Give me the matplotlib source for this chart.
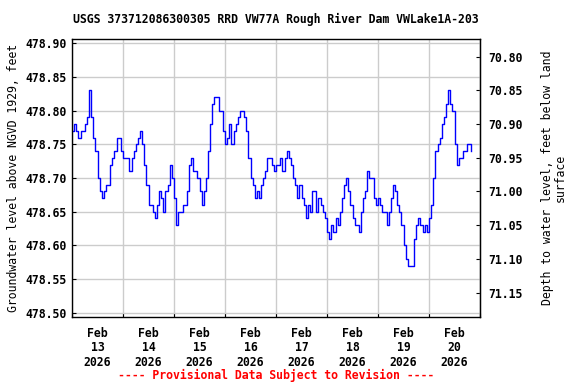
import numpy as np
import matplotlib
matplotlib.use("Agg")
import matplotlib.pyplot as plt
import matplotlib.dates as mdates
from datetime import datetime, timedelta

# hourly groundwater level (ft above NGVD 1929), starting Feb 13 2026 00:00
start = datetime(2026, 2, 13)
levels = [
    478.77, 478.78, 478.77, 478.76, 478.77, 478.77, 478.78, 478.79, 478.83, 478.79,
    478.76, 478.74, 478.70, 478.68, 478.67, 478.68, 478.69, 478.69, 478.72, 478.73,
    478.74, 478.76, 478.76, 478.74, 478.73, 478.73, 478.73, 478.71, 478.73, 478.74,
    478.75, 478.76, 478.77, 478.75, 478.72, 478.69, 478.66, 478.66, 478.65, 478.64,
    478.66, 478.68, 478.67, 478.65, 478.68, 478.69, 478.72, 478.70, 478.67, 478.63,
    478.65, 478.65, 478.66, 478.66, 478.68, 478.72, 478.73, 478.71, 478.71, 478.70,
    478.68, 478.66, 478.68, 478.70, 478.74, 478.78, 478.81, 478.82, 478.82, 478.80,
    478.80, 478.77, 478.75, 478.76, 478.78, 478.75, 478.77, 478.78, 478.79, 478.80,
    478.80, 478.79, 478.77, 478.73, 478.70, 478.69, 478.67, 478.68, 478.67, 478.69,
    478.70, 478.71, 478.73, 478.73, 478.72, 478.71, 478.72, 478.72, 478.73, 478.71,
    478.73, 478.74, 478.73, 478.72, 478.70, 478.69, 478.67, 478.69, 478.67, 478.66,
    478.64, 478.66, 478.65, 478.68, 478.68, 478.65, 478.67, 478.66, 478.65, 478.64,
    478.62, 478.61, 478.63, 478.62, 478.64, 478.63, 478.65, 478.67, 478.69, 478.70,
    478.68, 478.66, 478.64, 478.63, 478.63, 478.62, 478.65, 478.67, 478.68, 478.71,
    478.70, 478.70, 478.67, 478.66, 478.67, 478.66, 478.65, 478.65, 478.63, 478.65,
    478.67, 478.69, 478.68, 478.66, 478.65, 478.63, 478.60, 478.58, 478.57, 478.57,
    478.57, 478.61, 478.63, 478.64, 478.63, 478.62, 478.63, 478.62, 478.64, 478.66,
    478.70, 478.74, 478.75, 478.76, 478.78, 478.79, 478.81, 478.83, 478.81, 478.80,
    478.75, 478.72, 478.73, 478.73, 478.74, 478.74, 478.75, 478.75, 478.74,
]
land_surface = 549.68  # level + depth
yticks = [478.50, 478.55, 478.60, 478.65, 478.70, 478.75, 478.80, 478.85, 478.90]
depth_ticks = [70.80, 70.85, 70.90, 70.95, 71.00, 71.05, 71.10, 71.15]

times = [start + timedelta(hours=i) for i in range(len(levels))]

plt.rcParams['font.family'] = 'DejaVu Sans Mono'
plt.rcParams['font.weight'] = 'bold'
fs = 8.3

fig = plt.figure(figsize=(5.76, 3.84), dpi=100)
ax = fig.add_axes([72/576, 1-317/384, 408/576, 278/384])

ax.plot(times, levels, color='#0000ff', lw=1, drawstyle='steps-post')

ax.set_xlim(start, start + timedelta(days=8))
ax.set_ylim(478.494, 478.906)
ax.set_yticks(yticks)
ax.yaxis.set_major_formatter(matplotlib.ticker.FormatStrFormatter('%.2f'))

ax.xaxis.set_major_locator(mdates.DayLocator())
ax.xaxis.set_major_formatter(matplotlib.ticker.NullFormatter())
ax.xaxis.set_minor_locator(mdates.HourLocator(byhour=[12]))
ax.xaxis.set_minor_formatter(mdates.DateFormatter('%b\n%d\n%Y'))
ax.tick_params(axis='x', which='minor', length=0, pad=7, labelsize=fs)
ax.tick_params(axis='x', which='major', direction='in', length=3)
ax.tick_params(axis='y', direction='in', length=3, labelsize=fs, pad=4)
for lab in ax.get_xticklabels(minor=True):
    lab.set_fontweight('bold')
    lab.set_linespacing(1.15)

ax.grid(True, which='major', color='#cccccc', lw=1)
for s in ax.spines.values():
    s.set_linewidth(1)

ax.set_ylabel('Groundwater level above NGVD 1929, feet', fontsize=fs, labelpad=4)

sec = ax.secondary_yaxis('right', functions=(lambda x: land_surface - x, lambda d: land_surface - d))
sec.set_yticks(depth_ticks)
sec.yaxis.set_major_formatter(matplotlib.ticker.FormatStrFormatter('%.2f'))
sec.tick_params(direction='in', length=3, labelsize=fs, pad=6)
sec.set_ylabel('Depth to water level, feet below land\nsurface', fontsize=fs,
               linespacing=1.0, labelpad=13)

fig.text(276/576, 1-19/384, 'USGS 373712086300305 RRD VW77A Rough River Dam VWLake1A-203',
         ha='center', va='center', fontsize=fs)
fig.text(276/576, 1-375/384, '---- Provisional Data Subject to Revision ----',
         ha='center', va='center', fontsize=fs, color='red')

fig.savefig('out.png', dpi=100)
